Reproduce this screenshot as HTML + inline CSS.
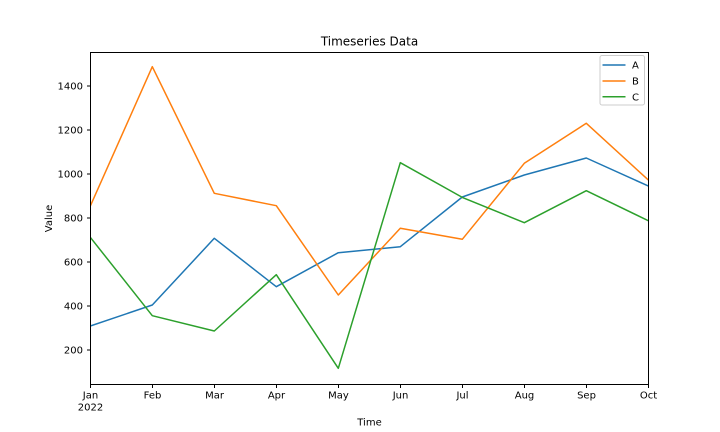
<!DOCTYPE html>
<html><head><meta charset="utf-8"><style>
html,body{margin:0;padding:0;background:#fff;}
svg{display:block;font-family:"DejaVu Sans","Liberation Sans",sans-serif;}
</style></head><body>
<svg width="720" height="432" viewBox="0 0 720 432" xmlns="http://www.w3.org/2000/svg">
<rect width="720" height="432" fill="#fff"/>
<defs><clipPath id="ax"><rect x="90.5" y="52.5" width="558" height="332"/></clipPath></defs>
<g clip-path="url(#ax)" fill="none" stroke-width="1.5" stroke-linejoin="round" stroke-linecap="square">
<polyline stroke="#1f77b4" points="90.3,326 152.3,305 214.3,238.3 276.3,286.7 338.3,252.7 400.3,246.7 462.3,197 524.3,175 586.3,158 648.3,186"/>
<polyline stroke="#ff7f0e" points="90.3,206 152.3,66.7 214.3,193.3 276.3,205.7 338.3,295 400.3,228.3 462.3,239.3 524.3,163.3 586.3,123.3 648.3,180"/>
<polyline stroke="#2ca02c" points="90.3,237.3 152.3,315.7 214.3,331 276.3,274.7 338.3,368.3 400.3,162.7 462.3,197.4 524.3,222.7 586.3,190.7 648.3,220.7"/>
</g>
<rect x="90.5" y="52.5" width="558" height="332" fill="none" stroke="#000" stroke-width="1"/>
<g stroke="#000" stroke-width="1">
<line x1="87" y1="350" x2="90.5" y2="350"/>
<line x1="87" y1="306" x2="90.5" y2="306"/>
<line x1="87" y1="262" x2="90.5" y2="262"/>
<line x1="87" y1="218" x2="90.5" y2="218"/>
<line x1="87" y1="174" x2="90.5" y2="174"/>
<line x1="87" y1="130" x2="90.5" y2="130"/>
<line x1="87" y1="86" x2="90.5" y2="86"/>
<line x1="90.5" y1="384.5" x2="90.5" y2="388"/>
<line x1="152.5" y1="384.5" x2="152.5" y2="388"/>
<line x1="214.5" y1="384.5" x2="214.5" y2="388"/>
<line x1="276.5" y1="384.5" x2="276.5" y2="388"/>
<line x1="338.5" y1="384.5" x2="338.5" y2="388"/>
<line x1="400.5" y1="384.5" x2="400.5" y2="388"/>
<line x1="462.5" y1="384.5" x2="462.5" y2="388"/>
<line x1="524.5" y1="384.5" x2="524.5" y2="388"/>
<line x1="586.5" y1="384.5" x2="586.5" y2="388"/>
<line x1="648.5" y1="384.5" x2="648.5" y2="388"/>
</g>
<g font-size="10" fill="#000" text-anchor="end">
<text x="83" y="353.6">200</text>
<text x="83" y="309.6">400</text>
<text x="83" y="265.6">600</text>
<text x="83" y="221.6">800</text>
<text x="83" y="177.6">1000</text>
<text x="83" y="133.6">1200</text>
<text x="83" y="89.6">1400</text>
</g>
<g font-size="10" fill="#000" text-anchor="middle">
<text x="90.5" y="398.5">Jan</text>
<text x="90.5" y="410.5">2022</text>
<text x="152.5" y="398.5">Feb</text>
<text x="214.5" y="398.5">Mar</text>
<text x="276.5" y="398.5">Apr</text>
<text x="338.5" y="398.5">May</text>
<text x="400.5" y="398.5">Jun</text>
<text x="462.5" y="398.5">Jul</text>
<text x="524.5" y="398.5">Aug</text>
<text x="586.5" y="398.5">Sep</text>
<text x="648.5" y="398.5">Oct</text>
<text x="369.5" y="425.5">Time</text>
<text x="52" y="218.5" transform="rotate(-90 52 218.5)">Value</text>
</g>
<text x="369.5" y="45.5" font-size="12" text-anchor="middle" fill="#000">Timeseries Data</text>
<rect x="600" y="55.5" width="44.5" height="49.5" rx="2" ry="2" fill="#fff" fill-opacity="0.8" stroke="#cccccc" stroke-width="1"/>
<g stroke-width="1.5">
<line x1="602.5" y1="65" x2="625.5" y2="65" stroke="#1f77b4"/>
<line x1="602.5" y1="81" x2="625.5" y2="81" stroke="#ff7f0e"/>
<line x1="602.5" y1="96.7" x2="625.5" y2="96.7" stroke="#2ca02c"/>
</g>
<g font-size="10" fill="#000">
<text x="632" y="68.6">A</text>
<text x="632" y="84.6">B</text>
<text x="632" y="100.3">C</text>
</g>
</svg>
</body></html>
